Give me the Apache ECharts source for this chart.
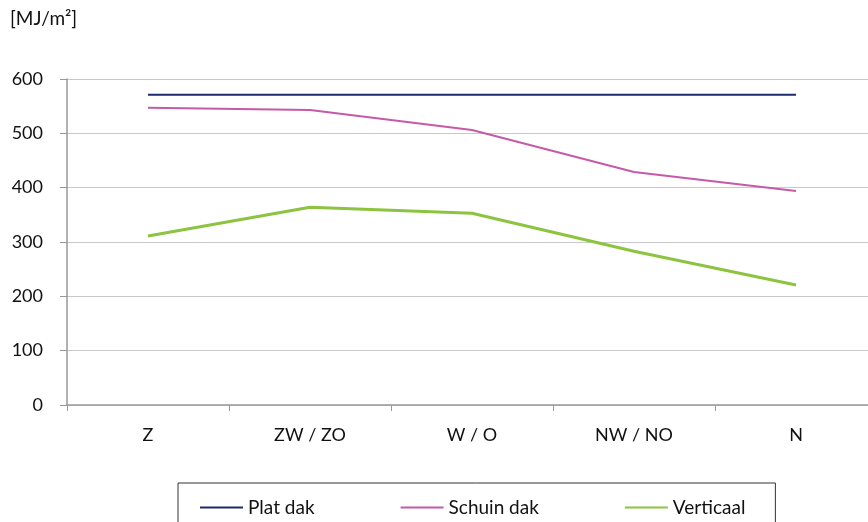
<!DOCTYPE html>
<html><head><meta charset="utf-8">
<script src="https://cdn.jsdelivr.net/npm/echarts@6/dist/echarts.min.js"></script>
<style>html,body{margin:0;padding:0;overflow:hidden;background:#fff}#c{width:880px;height:522px}</style>
</head><body><div id="c"></div>
<script>
const categories = ['Z', 'ZW / ZO', 'W / O', 'NW / NO', 'N'];
const platDak = [571, 571, 571, 571, 571];
const schuinDak = [547, 543, 506, 429, 394];
const verticaal = [311, 364, 353, 283, 221];
const yTicks = [0, 100, 200, 300, 400, 500, 600];
const FONT = 'Lato, "Open Sans", sans-serif';
const chart = echarts.init(document.getElementById('c'), null, {renderer: 'canvas'});
chart.setOption({
  animation: false,
  textStyle: {fontFamily: FONT},
  graphic: [{type: 'text', left: 10, top: 9, style: {text: '[MJ/m²]', fontSize: 19, fontFamily: FONT, fill: '#111'}}],
  grid: {left: 67, top: 79, right: 3, bottom: 117},
  legend: {
    left: 178, top: 483, width: 597,
    padding: [15, 30, 20, 22],
    borderColor: '#333', borderWidth: 1,
    icon: 'rect', itemWidth: 43, itemHeight: 2, itemGap: 86,
    textStyle: {fontSize: 19, color: '#111', fontFamily: FONT},
    data: ['Plat dak', 'Schuin dak', 'Verticaal']
  },
  xAxis: {
    type: 'category', data: categories, boundaryGap: true,
    axisLine: {lineStyle: {color: '#999', width: 1.5}},
    axisTick: {show: true, length: 6, lineStyle: {color: '#999'}},
    axisLabel: {fontSize: 18, color: '#111', margin: 21}
  },
  yAxis: {
    type: 'value', min: yTicks[0], max: yTicks[yTicks.length - 1], interval: 100,
    axisLine: {show: true, lineStyle: {color: '#999', width: 1.5}},
    axisTick: {show: true, length: 7, lineStyle: {color: '#999'}},
    axisLabel: {fontSize: 18, color: '#111', margin: 24},
    splitLine: {lineStyle: {color: '#c8c8c8', width: 1}}
  },
  series: [
    {name: 'Plat dak', type: 'line', data: platDak, symbol: 'none', color: '#1f2a6b', lineStyle: {width: 2}},
    {name: 'Schuin dak', type: 'line', data: schuinDak, symbol: 'none', color: '#c45aa8', lineStyle: {width: 2}},
    {name: 'Verticaal', type: 'line', data: verticaal, symbol: 'none', color: '#8cc43f', lineStyle: {width: 3}}
  ]
});
</script></body></html>
